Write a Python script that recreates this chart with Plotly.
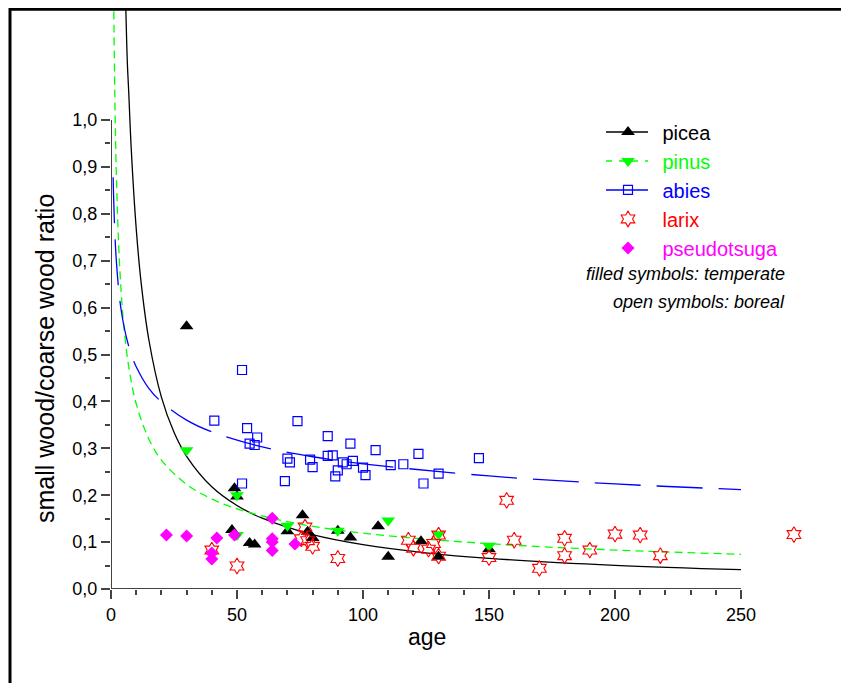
import plotly.graph_objects as go

# ---------------- data ----------------
picea_age = [30, 49, 50, 48, 55, 57, 70, 76, 78, 80, 90, 95, 106, 110, 123, 130, 150]
picea_ratio = [0.56, 0.215, 0.197, 0.126, 0.098, 0.095, 0.123, 0.157, 0.122, 0.109,
               0.124, 0.11, 0.134, 0.069, 0.102, 0.069, 0.085]

pinus_age = [30, 50, 50, 70, 90, 110, 130, 150]
pinus_ratio = [0.296, 0.2, 0.115, 0.135, 0.124, 0.146, 0.117, 0.092]

abies_age = [41, 52, 54, 58, 55, 57, 74, 86, 95, 70, 71, 79, 80, 86, 88, 92, 93.5, 90,
             89, 69, 52, 96, 100, 101, 105, 111, 116, 122, 130, 124, 146]
abies_ratio = [0.359, 0.467, 0.343, 0.323, 0.31, 0.307, 0.358, 0.326, 0.31, 0.278, 0.27,
               0.276, 0.26, 0.284, 0.285, 0.27, 0.266, 0.253, 0.24, 0.23, 0.225, 0.273,
               0.259, 0.243, 0.296, 0.264, 0.266, 0.288, 0.246, 0.225, 0.279]

larix_age = [40, 50, 77, 75.5, 78, 80, 90, 118, 120, 126, 128, 130, 130, 150, 157, 160,
             170, 180, 180, 190, 200, 210, 218, 271]
larix_ratio = [0.083, 0.049, 0.132, 0.107, 0.103, 0.091, 0.065, 0.104, 0.087, 0.085,
               0.097, 0.115, 0.07, 0.067, 0.189, 0.104, 0.044, 0.108, 0.071, 0.083,
               0.117, 0.115, 0.071, 0.116]

pseudo_age = [22, 30, 42, 49, 40, 40, 64, 64, 64, 64, 73]
pseudo_ratio = [0.115, 0.113, 0.109, 0.115, 0.077, 0.064, 0.151, 0.107, 0.1, 0.082, 0.096]

# fitted curves
picea_fit_age = [5.9, 6.5, 7, 8, 10, 12, 15, 20, 25, 30, 40, 50, 60, 80, 100, 125, 150, 200, 250]
picea_fit_ratio = [1.234, 1.12, 1.064, 0.942, 0.769, 0.651, 0.532, 0.409, 0.334, 0.283,
                   0.218, 0.178, 0.151, 0.116, 0.0946, 0.0772, 0.0654, 0.0503, 0.0411]

pinus_fit_age = [1.12, 1.5, 2, 3, 4, 5, 7, 10, 15, 20, 30, 40, 50, 70, 100, 150, 200, 250]
pinus_fit_ratio = [1.232, 1.059, 0.911, 0.738, 0.636, 0.566, 0.475, 0.395, 0.32, 0.275,
                   0.223, 0.192, 0.171, 0.1435, 0.119, 0.0966, 0.0831, 0.074]

abies_fit_age = [0.85, 1, 1.5, 2, 3, 4, 6, 8, 10, 15, 20, 30, 40, 60, 80, 100, 150, 200, 250]
abies_fit_ratio = [0.878, 0.843, 0.762, 0.709, 0.641, 0.596, 0.539, 0.501, 0.474, 0.428,
                   0.399, 0.36, 0.335, 0.303, 0.282, 0.267, 0.241, 0.224, 0.212]

x_ticks = [0, 50, 100, 150, 200, 250]
x_minor = [v for v in range(10, 250, 10) if v % 50]
y_ticks = [round(0.1 * i, 1) for i in range(11)]
y_minor = [round(0.05 + 0.1 * i, 2) for i in range(10)]

FONT = "Liberation Sans, Arial, sans-serif"
BLACK, GREEN, BLUE, RED, MAG = "#000000", "#00ff00", "#0000ff", "#ff0000", "#ff00ff"


def colored(name, color):
    return f"<span style='color:{color}'>{name}</span>"


fig = go.Figure()

# fit lines
fig.add_trace(go.Scatter(x=picea_fit_age, y=picea_fit_ratio, mode="lines", showlegend=False,
                         line=dict(color=BLACK, width=1.3, shape="spline"), hoverinfo="skip"))
fig.add_trace(go.Scatter(x=pinus_fit_age, y=pinus_fit_ratio, mode="lines", showlegend=False,
                         line=dict(color=GREEN, width=1.3, dash="8px,5px", shape="spline"),
                         hoverinfo="skip"))
fig.add_trace(go.Scatter(x=abies_fit_age, y=abies_fit_ratio, mode="lines", showlegend=False,
                         line=dict(color=BLUE, width=1.3, dash="46px,16px", shape="spline"),
                         hoverinfo="skip"))

# data points (with legend entries)
fig.add_trace(go.Scatter(x=picea_age, y=picea_ratio, mode="markers",
                         name=colored("picea", BLACK),
                         marker=dict(symbol="triangle-up", size=12, color=BLACK)))
fig.add_trace(go.Scatter(x=pinus_age, y=pinus_ratio, mode="markers",
                         name=colored("pinus", GREEN),
                         marker=dict(symbol="triangle-down", size=12, color=GREEN)))
fig.add_trace(go.Scatter(x=abies_age, y=abies_ratio, mode="markers",
                         name=colored("abies", BLUE),
                         marker=dict(symbol="square-open", size=9, color=BLUE,
                                     line=dict(width=1.2, color=BLUE))))
fig.add_trace(go.Scatter(x=larix_age, y=larix_ratio, mode="markers",
                         name=colored("larix", RED),
                         marker=dict(symbol="hexagram-open", size=12, color=RED,
                                     line=dict(width=1.1, color=RED))))
fig.add_trace(go.Scatter(x=pseudo_age, y=pseudo_ratio, mode="markers",
                         name=colored("pseudotsuga", MAG),
                         marker=dict(symbol="diamond", size=10, color=MAG)))

AX = "#444444"
L, R, T, B = 103, 37, 1, 102
PW, PH = 849 - L - R, 683 - T - B


def px(xf):
    return (xf - L) / PW


def py(yf):
    return (683 - B - yf) / PH


# legend line samples (legend rows at figure y 124, 153, 182)
leg_line_x0, leg_line_x1 = 598, 640
legend_lines = [
    dict(type="line", xref="paper", yref="paper", x0=px(leg_line_x0), x1=px(leg_line_x1),
         y0=py(124), y1=py(124), line=dict(color=BLACK, width=1.3)),
    dict(type="line", xref="paper", yref="paper", x0=px(leg_line_x0), x1=px(leg_line_x1),
         y0=py(153), y1=py(153), line=dict(color=GREEN, width=1.3, dash="6px,7px")),
    dict(type="line", xref="paper", yref="paper", x0=px(leg_line_x0), x1=px(leg_line_x1),
         y0=py(182), y1=py(182), line=dict(color=BLUE, width=1.3)),
]

fig.update_layout(
    width=849, height=683,
    margin=dict(l=L, r=R, t=T, b=B),
    paper_bgcolor="white", plot_bgcolor="white",
    separators=",.",
    font=dict(family=FONT, size=18, color="black"),
    showlegend=True,
    legend=dict(x=px(585.5), y=py(104.4), xanchor="left", yanchor="top",
                bgcolor="rgba(0,0,0,0)", font=dict(size=20),
                itemwidth=59, tracegroupgap=0, itemsizing="trace"),
    xaxis=dict(range=[0, PW / 2.52], showgrid=False, zeroline=False, showline=False,
               tickmode="array", tickvals=x_ticks, tickformat="d",
               ticks="outside", ticklen=9, tickwidth=1.5, tickcolor=AX,
               minor=dict(tickmode="array", tickvals=x_minor, ticks="outside",
                          ticklen=5, tickwidth=1.5, tickcolor=AX, showgrid=False),
               tickfont=dict(size=18)),
    yaxis=dict(range=[0, PH / 469.0], showgrid=False, zeroline=False, showline=False,
               tickmode="array", tickvals=y_ticks, tickformat=".1f",
               ticks="outside", ticklen=9, tickwidth=1.5, tickcolor=AX,
               minor=dict(tickmode="array", tickvals=y_minor, ticks="outside",
                          ticklen=5, tickwidth=1.5, tickcolor=AX, showgrid=False),
               tickfont=dict(size=18)),
    shapes=[
        dict(type="line", xref="x", yref="y", x0=0, x1=250, y0=0, y1=0,
             line=dict(color=AX, width=2), layer="below"),
        dict(type="line", xref="x", yref="y", x0=0, x1=0, y0=0, y1=1.0,
             line=dict(color=AX, width=2), layer="below"),
        dict(type="rect", xref="paper", yref="paper", x0=px(2), x1=px(900),
             y0=py(760), y1=py(1.2), line=dict(color="black", width=3),
             fillcolor="rgba(0,0,0,0)"),
    ] + legend_lines,
    annotations=[
        dict(text="<i>filled symbols: temperate</i>", xref="paper", yref="paper",
             x=px(779), y=py(266), xanchor="right", yanchor="middle",
             showarrow=False, font=dict(size=18)),
        dict(text="<i>open symbols: boreal</i>", xref="paper", yref="paper",
             x=px(779), y=py(294), xanchor="right", yanchor="middle",
             showarrow=False, font=dict(size=18)),
        dict(text="small wood/coarse wood ratio", xref="paper", yref="paper",
             x=px(37), y=py(351), xanchor="center", yanchor="middle", textangle=-90,
             showarrow=False, font=dict(size=25)),
        dict(text="age", xref="paper", yref="paper",
             x=px(419), y=py(629), xanchor="center", yanchor="middle",
             showarrow=False, font=dict(size=23)),
    ],
)

fig.write_html("out.html")
